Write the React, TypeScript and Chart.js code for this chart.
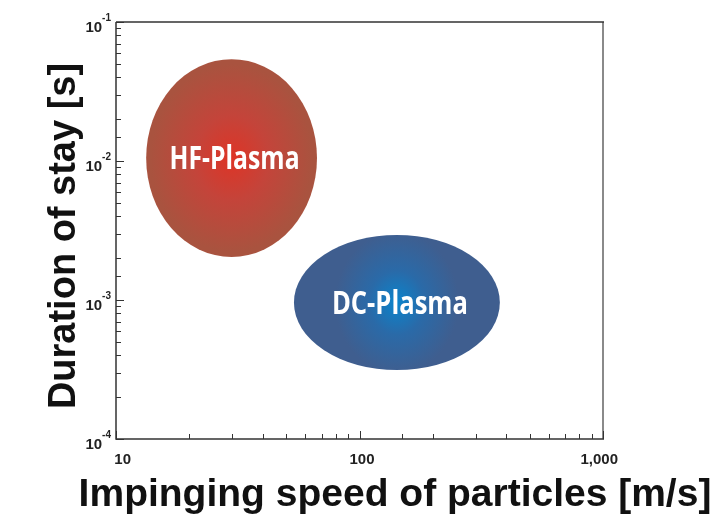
import React, { useEffect, useRef } from "react";
import { Chart, registerables } from "chart.js";

Chart.register(...registerables);

// ---- data ----
const regionNames = ["HF-Plasma", "DC-Plasma"];
const speedMin = [13.3, 53.8]; // m/s
const speedMax = [66.9, 377];
const stayMin = [0.00204, 0.000313]; // s
const stayMax = [0.054, 0.00294];
const centerColors = ["#de3426", "#0a84cc"];
const midColors = ["#c4443a", "#2a6aa8"];
const edgeColors = ["#a9533f", "#3f5e8f"];

const xTickValues = [10, 100, 1000];
const xTickLabels = ["10", "100", "1,000"];
const yTickValues = [1e-4, 1e-3, 1e-2, 1e-1];
const yTickExponents = ["-4", "-3", "-2", "-1"];

const xTitle = "Impinging speed of particles [m/s]";
const yTitle = "Duration of stay [s]";

const isMajor = (v: number) => {
  const l = Math.log10(v);
  return Math.abs(l - Math.round(l)) < 1e-6;
};

const drawPlugin = {
  id: "drawPlugin",
  afterDraw(chart: any) {
    const { ctx, chartArea: a } = chart;
    const x = chart.scales.x;
    const y = chart.scales.y;

    // ellipses
    for (let i = 0; i < regionNames.length; i++) {
      const x0 = x.getPixelForValue(speedMin[i]);
      const x1 = x.getPixelForValue(speedMax[i]);
      const y0 = y.getPixelForValue(stayMax[i]);
      const y1 = y.getPixelForValue(stayMin[i]);
      const cx = (x0 + x1) / 2;
      const cy = (y0 + y1) / 2;
      const rx = (x1 - x0) / 2;
      const ry = (y1 - y0) / 2;
      ctx.save();
      ctx.beginPath();
      ctx.ellipse(cx, cy, rx, ry, 0, 0, Math.PI * 2);
      ctx.translate(cx, cy);
      if (i === 0) ctx.scale(rx * 0.95, ry * 0.95);
      else ctx.scale(rx * 0.6, ry * 1.05);
      const g = ctx.createRadialGradient(0, 0, 0, 0, 0, 1);
      g.addColorStop(0, centerColors[i]);
      g.addColorStop(0.45, midColors[i]);
      g.addColorStop(1, edgeColors[i]);
      ctx.fillStyle = g;
      ctx.fill();
      ctx.restore();

      // label
      ctx.save();
      ctx.font = "bold 32px 'Open Sans', sans-serif";
      const w = ctx.measureText(regionNames[i]).width;
      const target = i === 0 ? 130 : 136;
      const sx = target / w;
      ctx.translate(cx + 3, cy + 11);
      ctx.scale(sx, 1);
      ctx.fillStyle = "#ffffff";
      ctx.textAlign = "center";
      ctx.textBaseline = "alphabetic";
      ctx.fillText(regionNames[i], 0, 0);
      ctx.restore();
    }

    // frame
    ctx.save();
    ctx.lineCap = "butt";
    ctx.strokeStyle = "#8a8a8a";
    ctx.lineWidth = 2;
    ctx.beginPath();
    ctx.moveTo(a.right, a.top);
    ctx.lineTo(a.right, a.bottom);
    ctx.stroke();
    ctx.strokeStyle = "#333333";
    ctx.lineWidth = 1.5;
    ctx.beginPath();
    ctx.moveTo(a.left, a.top);
    ctx.lineTo(a.right + 1, a.top);
    ctx.moveTo(a.left, a.top);
    ctx.lineTo(a.left, a.bottom);
    ctx.lineTo(a.right + 1, a.bottom);
    ctx.stroke();

    // ticks (inward)
    ctx.lineWidth = 1;
    ctx.strokeStyle = "#333333";
    ctx.beginPath();
    for (const t of x.ticks) {
      const px = Math.round(x.getPixelForValue(t.value)) + 0.5;
      const len = isMajor(t.value) ? 8 : 5;
      ctx.moveTo(px, a.bottom);
      ctx.lineTo(px, a.bottom - len);
    }
    for (const t of y.ticks) {
      const py = Math.round(y.getPixelForValue(t.value)) + 0.5;
      const len = isMajor(t.value) ? 8 : 5;
      ctx.moveTo(a.left, py);
      ctx.lineTo(a.left + len, py);
    }
    ctx.stroke();

    // x tick labels
    ctx.fillStyle = "#222222";
    ctx.font = "bold 15px 'Liberation Sans', Arial, sans-serif";
    ctx.textAlign = "right";
    ctx.textBaseline = "alphabetic";
    xTickValues.forEach((v, i) => {
      const px = x.getPixelForValue(v);
      ctx.fillText(xTickLabels[i], px + 15, a.bottom + 25);
    });

    // y tick labels with superscript
    yTickValues.forEach((v, i) => {
      const py = y.getPixelForValue(v);
      ctx.font = "bold 10px 'Liberation Sans', Arial, sans-serif";
      const ew = ctx.measureText(yTickExponents[i]).width;
      ctx.textAlign = "right";
      const right = a.left - 5;
      ctx.fillText(yTickExponents[i], right, py - 1);
      ctx.font = "bold 15px 'Liberation Sans', Arial, sans-serif";
      ctx.fillText("10", right - ew, py + 10);
    });

    // axis titles
    ctx.fillStyle = "#111111";
    ctx.font = "bold 39px 'Liberation Sans', Arial, sans-serif";
    ctx.textAlign = "center";
    ctx.textBaseline = "alphabetic";
    ctx.fillText(xTitle, 395, 506);

    ctx.font = "bold 38px 'Liberation Sans', Arial, sans-serif";
    ctx.save();
    ctx.translate(75, 236);
    ctx.rotate(-Math.PI / 2);
    ctx.fillText(yTitle, 0, 0);
    ctx.restore();

    ctx.restore();
  },
};

export default function App() {
  const ref = useRef<HTMLCanvasElement | null>(null);
  useEffect(() => {
    if (!ref.current) return;
    const chart = new Chart(ref.current, {
      type: "scatter",
      data: { datasets: [{ data: [], showLine: false }] },
      options: {
        animation: false,
        responsive: false,
        maintainAspectRatio: false,
        layout: { padding: { top: 22, right: 117, left: 0, bottom: 0 } },
        plugins: { legend: { display: false }, tooltip: { enabled: false } },
        scales: {
          x: {
            type: "logarithmic",
            display: true,
            min: 10,
            max: 1000,
            grid: { display: false },
            border: { display: false },
            ticks: { display: false },
            afterFit: (s: any) => {
              s.height = 87;
            },
          },
          y: {
            type: "logarithmic",
            display: true,
            min: 1e-4,
            max: 1e-1,
            grid: { display: false },
            border: { display: false },
            ticks: { display: false },
            afterFit: (s: any) => {
              s.width = 116;
            },
          },
        },
      },
      plugins: [drawPlugin],
    });
    return () => chart.destroy();
  }, []);
  return (
    <div style={{ position: "fixed", left: 0, top: 0, width: 720, height: 526, background: "#ffffff" }}>
      <canvas ref={ref} width={720} height={526} style={{ display: "block" }} />
    </div>
  );
}
